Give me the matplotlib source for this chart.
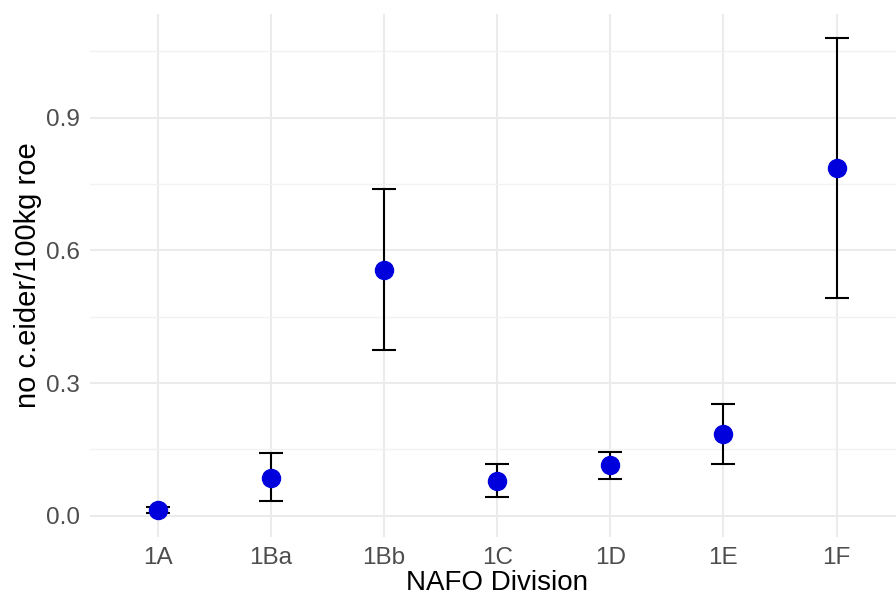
import matplotlib.pyplot as plt
import numpy as np

# NAFO divisions and estimated bycatch rate with interval limits
divisions = ['1A', '1Ba', '1Bb', '1C', '1D', '1E', '1F']
rate = [0.012, 0.086, 0.556, 0.079, 0.115, 0.185, 0.786]
lower = [0.006, 0.034, 0.375, 0.043, 0.084, 0.118, 0.493]
upper = [0.019, 0.142, 0.739, 0.118, 0.145, 0.253, 1.081]

plt.rcParams['font.family'] = ['Liberation Sans', 'DejaVu Sans']

fig = plt.figure(figsize=(8.96, 6.04), dpi=100)
ax = fig.add_axes([0.1004, 0.111, 0.909, 0.866])

x = np.arange(1, len(divisions) + 1)
rate = np.array(rate)
yerr = [rate - np.array(lower), np.array(upper) - rate]

ax.errorbar(x, rate, yerr=yerr, fmt='none', ecolor='black', elinewidth=1.5,
            capsize=8.3, capthick=1.5, zorder=3)
ax.plot(x, rate, 'o', color='#0000DD', markersize=13, zorder=4)

ax.set_xlim(0.4, 7.6)
ax.set_ylim(-0.048, 1.135)
ax.set_xticks(x)
ax.set_xticklabels(divisions)
ax.set_yticks([0.0, 0.3, 0.6, 0.9])
ax.set_yticklabels(['0.0', '0.3', '0.6', '0.9'])
ax.set_yticks([0.15, 0.45, 0.75, 1.05], minor=True)

ax.grid(True, which='major', color='#EBEBEB', linewidth=1.5)
ax.grid(True, which='minor', axis='y', color='#F2F2F2', linewidth=1.0)
ax.set_axisbelow(True)
for s in ax.spines.values():
    s.set_visible(False)
ax.tick_params(axis='both', which='both', length=0, labelsize=17.5, labelcolor='#4D4D4D')
ax.tick_params(axis='x', pad=7)
ax.tick_params(axis='y', pad=7)

ax.set_xlabel('NAFO Division', fontsize=20, labelpad=1)
ax.set_ylabel('no c.eider/100kg roe', fontsize=21, labelpad=3)

fig.savefig('out.png', dpi=100)
